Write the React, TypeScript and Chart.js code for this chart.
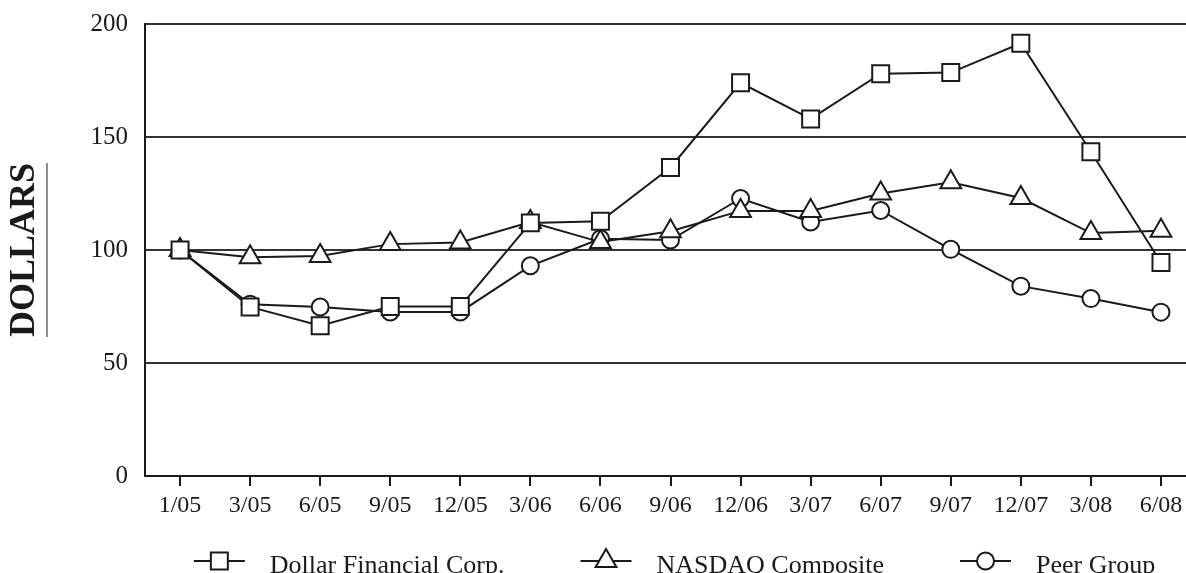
import { useEffect, useRef } from 'react';
import { Chart, registerables } from 'chart.js';

Chart.register(...registerables);

const categories = ['1/05', '3/05', '6/05', '9/05', '12/05', '3/06', '6/06', '9/06', '12/06', '3/07', '6/07', '9/07', '12/07', '3/08', '6/08'];
const dollarFinancial = [100, 74.8, 66.5, 75, 75, 112, 112.7, 136.5, 174, 158, 178, 178.5, 191.5, 143.5, 94.5];
const nasdaqComposite = [100, 96.8, 97.3, 102.6, 103.3, 112.4, 103.5, 108.3, 117.3, 117.3, 125, 130, 123, 107.5, 108.5];
const peerGroup = [100, 76, 74.8, 72.6, 72.6, 93, 105, 104.4, 122.8, 112.4, 117.5, 100.3, 84, 78.5, 72.5];
const yTicks = [0, 50, 100, 150, 200];
const seriesNames = ['Dollar Financial Corp.', 'NASDAQ Composite', 'Peer Group'];
const yTitle = 'DOLLARS';

const FONT = '"Liberation Serif", "Times New Roman", serif';
const INK = '#1a1a1a';
const CANVAS_W = 1210;

function drawMarker(ctx: CanvasRenderingContext2D, style: string, x: number, y: number, r: number) {
  ctx.beginPath();
  if (style === 'rect') {
    const s = Math.SQRT1_2 * r;
    ctx.rect(x - s, y - s, 2 * s, 2 * s);
  } else if (style === 'circle') {
    ctx.arc(x, y, r, 0, Math.PI * 2);
  } else {
    let rad = 0;
    ctx.moveTo(x + Math.sin(rad) * r, y - Math.cos(rad) * r);
    rad += (2 * Math.PI) / 3;
    ctx.lineTo(x + Math.sin(rad) * r, y - Math.cos(rad) * r);
    rad += (2 * Math.PI) / 3;
    ctx.lineTo(x + Math.sin(rad) * r, y - Math.cos(rad) * r);
    ctx.closePath();
  }
  ctx.fillStyle = '#fff';
  ctx.fill();
  ctx.stroke();
}

const legendPlugin = {
  id: 'customLegend',
  afterDraw(chart: any) {
    const ctx: CanvasRenderingContext2D = chart.ctx;
    const { left, right } = chart.chartArea;
    ctx.save();
    ctx.font = `26px ${FONT}`;
    const lineLen = 51;
    const gapText = 25;
    const itemGap = 76;
    const dsets = chart.data.datasets;
    const widths = dsets.map((ds: any) => ctx.measureText(ds.label).width);
    const total = widths.reduce((a: number, w: number) => a + lineLen + gapText + w, 0) + itemGap * (widths.length - 1);
    let x = (left + right) / 2 - total / 2 + 4;
    const y = 561;
    dsets.forEach((ds: any, i: number) => {
      ctx.strokeStyle = INK;
      ctx.lineWidth = 2;
      ctx.beginPath();
      ctx.moveTo(x, y);
      ctx.lineTo(x + lineLen, y);
      ctx.stroke();
      drawMarker(ctx, ds.pointStyle, x + lineLen / 2, y, ds.pointRadius);
      ctx.fillStyle = INK;
      ctx.textBaseline = 'alphabetic';
      ctx.textAlign = 'left';
      ctx.fillText(ds.label, x + lineLen + gapText, 573);
      x += lineLen + gapText + widths[i] + itemGap;
    });
    ctx.restore();
  },
};

const underlinePlugin = {
  id: 'titleUnderline',
  afterDraw(chart: any) {
    const ctx: CanvasRenderingContext2D = chart.ctx;
    const { top, bottom } = chart.chartArea;
    ctx.save();
    ctx.font = `bold 36px ${FONT}`;
    const w = ctx.measureText(yTitle).width;
    const cy = (top + bottom) / 2;
    ctx.strokeStyle = '#666';
    ctx.lineWidth = 1.5;
    ctx.beginPath();
    ctx.moveTo(47, cy - w / 2);
    ctx.lineTo(47, cy + w / 2);
    ctx.stroke();
    ctx.restore();
  },
};

export default function App() {
  const ref = useRef<HTMLCanvasElement>(null);

  useEffect(() => {
    const common = {
      borderColor: INK,
      borderWidth: 2,
      pointBackgroundColor: '#fff',
      pointBorderColor: INK,
      pointBorderWidth: 2,
      tension: 0,
      fill: false,
    };
    const chart = new Chart(ref.current!, {
      type: 'line',
      data: {
        labels: categories,
        datasets: [
          { ...common, label: seriesNames[0], data: dollarFinancial, pointStyle: 'rect', pointRadius: 12 },
          { ...common, label: seriesNames[1], data: nasdaqComposite, pointStyle: 'triangle', pointRadius: 12 },
          { ...common, label: seriesNames[2], data: peerGroup, pointStyle: 'circle', pointRadius: 8.5 },
        ],
      },
      options: {
        responsive: false,
        animation: false,
        devicePixelRatio: 1,
        layout: { padding: { top: 24, left: 0, right: 0, bottom: 0 } },
        plugins: {
          legend: { display: false },
          tooltip: { enabled: false },
        },
        scales: {
          x: {
            type: 'category',
            offset: true,
            grid: { drawOnChartArea: false, drawTicks: true, tickLength: 10, color: INK, lineWidth: 2 },
            border: { display: true, color: INK, width: 2 },
            ticks: { font: { family: FONT, size: 24 }, color: INK, padding: 5, maxRotation: 0, autoSkip: false },
            afterFit: (s: any) => {
              s.height = 97;
              s.paddingLeft = 0;
              s.paddingRight = 0;
            },
          },
          y: {
            min: 0,
            max: 200,
            afterBuildTicks: (s: any) => {
              s.ticks = yTicks.map((v) => ({ value: v }));
            },
            ticks: { font: { family: FONT, size: 25 }, color: INK, padding: 17 },
            grid: { color: '#333', lineWidth: 2, drawTicks: false },
            border: { display: true, color: INK, width: 2 },
            title: {
              display: true,
              text: yTitle,
              font: { family: FONT, size: 36, weight: 'bold' },
              color: INK,
              padding: { top: 3, bottom: 0 },
            },
            afterFit: (s: any) => {
              s.width = 145;
              s.paddingTop = 0;
              s.paddingBottom = 0;
            },
          },
        },
      } as any,
      plugins: [legendPlugin, underlinePlugin],
    });
    return () => chart.destroy();
  }, []);

  return (
    <div style={{ position: 'fixed', left: 0, top: 0, width: 1186, height: 573, overflow: 'hidden', background: '#fff' }}>
      <div style={{ width: CANVAS_W, height: 573 }}>
        <canvas ref={ref} width={CANVAS_W} height={573} style={{ display: 'block', width: CANVAS_W, height: 573 }} />
      </div>
    </div>
  );
}
